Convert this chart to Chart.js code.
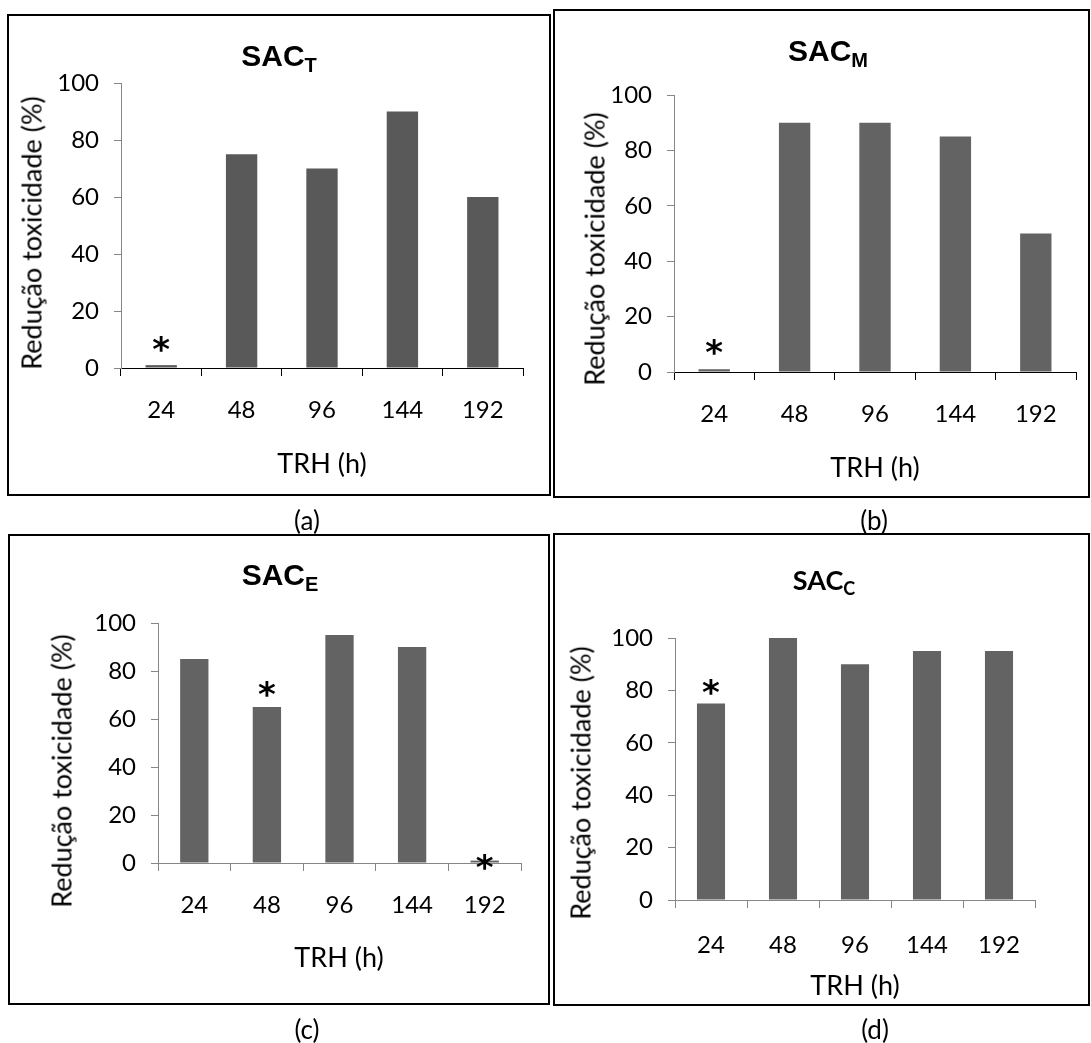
<!DOCTYPE html>
<html><head><meta charset="utf-8">
<script src="https://cdn.jsdelivr.net/npm/chart.js@4.4.0/dist/chart.umd.min.js"></script>
<style>
html,body{margin:0;padding:0;background:#fff;}
body{width:1091px;height:1043px;position:relative;overflow:hidden;font-family:Lato,sans-serif;color:#000;}
canvas.cv{position:absolute;left:0;top:0;}
.box{position:absolute;border:2px solid #000;box-sizing:border-box;}
.t{position:absolute;white-space:nowrap;line-height:1;transform:translate(-50%,-50%);}
.yt{position:absolute;white-space:nowrap;line-height:1;transform:translate(-50%,-50%) rotate(-90deg);font-size:27px;}
.xt{font-size:27px;}
.ttl{font-family:"Liberation Sans",Arial,sans-serif;font-weight:bold;font-size:30px;}
.ttl sub{font-size:20px;vertical-align:baseline;position:relative;top:0.3em;}
.ttlc{font-family:Lato,sans-serif;font-weight:bold;font-size:27px;}
.ttlc sub{font-size:18px;vertical-align:baseline;position:relative;top:0.3em;}
.pl{font-size:26px;}
</style></head><body>
<div class="box" style="left:7px;top:14px;width:544px;height:482px"></div>
<div class="box" style="left:553px;top:9px;width:537px;height:489px"></div>
<div class="box" style="left:8px;top:534px;width:542px;height:471px"></div>
<div class="box" style="left:553px;top:533px;width:537px;height:473px"></div>

<canvas class="cv" id="ca" width="1091" height="1043"></canvas>
<canvas class="cv" id="cb" width="1091" height="1043"></canvas>
<canvas class="cv" id="cc" width="1091" height="1043"></canvas>
<canvas class="cv" id="cd" width="1091" height="1043"></canvas>

<div class="t ttl" style="left:279px;top:56px">SAC<sub>T</sub></div>
<div class="t ttl" style="left:828px;top:51px">SAC<sub>M</sub></div>
<div class="t ttl" style="left:280px;top:575px">SAC<sub>E</sub></div>
<div class="t ttlc" style="left:824px;top:579px">SAC<sub>C</sub></div>

<div class="yt" style="left:31px;top:233px">Redução toxicidade (%)</div>
<div class="yt" style="left:594px;top:249px">Redução toxicidade (%)</div>
<div class="yt" style="left:61px;top:771px">Redução toxicidade (%)</div>
<div class="yt" style="left:580px;top:783px">Redução toxicidade (%)</div>

<div class="t xt" style="left:322px;top:462px">TRH (h)</div>
<div class="t xt" style="left:875px;top:466px">TRH (h)</div>
<div class="t xt" style="left:339px;top:956px">TRH (h)</div>
<div class="t xt" style="left:855px;top:984px">TRH (h)</div>

<div class="t pl" style="left:307px;top:520px">(a)</div>
<div class="t pl" style="left:874px;top:520px">(b)</div>
<div class="t pl" style="left:307px;top:1029px">(c)</div>
<div class="t pl" style="left:875px;top:1029px">(d)</div>

<script>
// ---- data ----
const categories = ['24', '48', '96', '144', '192'];
const yTickValues = [0, 20, 40, 60, 80, 100];
const valuesT = [1, 75, 70, 90, 60];
const valuesM = [1, 90, 90, 85, 50];
const valuesE = [85, 65, 95, 90, 1];
const valuesC = [75, 100, 90, 95, 95];
const starsT = [0];
const starsM = [0];
const starsE = [1, 4];
const starsC = [0];

// ---- layout / style ----
const W = 1091, H = 1043, Y_W = 80, X_H = 70;
const panels = [
  {id:'ca', values:valuesT, stars:starsT, lifts:[21], plot:{l:121,r:523,t:83,b:368}, bar:'#595959', xColor:'#000000', xPad:20},
  {id:'cb', values:valuesM, stars:starsM, lifts:[22], plot:{l:674,r:1076,t:95,b:372}, bar:'#636363', xColor:'#000000', xPad:20},
  {id:'cc', values:valuesE, stars:starsE, lifts:[18,-1], plot:{l:158,r:521,t:623,b:863}, bar:'#636363', xColor:'#868686', xPad:20},
  {id:'cd', values:valuesC, stars:starsC, lifts:[17], plot:{l:675,r:1035,t:638,b:900}, bar:'#636363', xColor:'#868686', xPad:23}
];

const starPlugin = {
  id:'stars',
  afterDatasetsDraw(chart, args, opts){
    const meta = chart.getDatasetMeta(0);
    const ctx = chart.ctx;
    ctx.save();
    ctx.fillStyle = '#000';
    ctx.font = 'bold 34px "DejaVu Sans"';
    ctx.textAlign = 'center';
    ctx.textBaseline = 'alphabetic';
    (opts.indices || []).forEach((idx, k) => {
      const el = meta.data[idx];
      if (!el) return;
      const m = ctx.measureText('*');
      const cy = el.y - (opts.lifts[k] || 0);
      const base = cy + (m.actualBoundingBoxAscent - m.actualBoundingBoxDescent) / 2;
      ctx.fillText('*', el.x, base);
    });
    ctx.restore();
  }
};

function build(p){
  new Chart(document.getElementById(p.id), {
    type:'bar',
    data:{labels:categories, datasets:[{data:p.values, backgroundColor:p.bar, borderWidth:0, barPercentage:0.39, categoryPercentage:1.0}]},
    options:{
      responsive:false, animation:false, devicePixelRatio:1,
      events:[],
      layout:{padding:{left:p.plot.l - Y_W, top:p.plot.t, right:W - p.plot.r, bottom:H - p.plot.b - X_H}},
      plugins:{legend:{display:false}, tooltip:{enabled:false}, title:{display:false},
        stars:{indices:p.stars, lifts:p.lifts}},
      scales:{
        x:{
          offset:true,
          grid:{display:true, drawOnChartArea:false, drawTicks:true, tickLength:8, color:p.xColor, lineWidth:1, offset:true},
          border:{display:true, color:p.xColor, width:1},
          ticks:{color:'#000', font:{family:'Lato', size:24}, padding:p.xPad, maxRotation:0, minRotation:0, autoSkip:false},
          afterFit:s=>{s.height = X_H;}
        },
        y:{
          min:0, max:100,
          grid:{display:true, drawOnChartArea:false, drawTicks:true, tickLength:7, color:'#868686', lineWidth:1},
          border:{display:true, color:'#868686', width:1},
          ticks:{color:'#000', font:{family:'Lato', size:24}, padding:15},
          afterBuildTicks:s=>{s.ticks = yTickValues.map(v=>({value:v}));},
          afterFit:s=>{s.width = Y_W;}
        }
      }
    },
    plugins:[starPlugin]
  });
}

function go(){ panels.forEach(build); }
if (document.fonts && document.fonts.load) {
  Promise.all([document.fonts.load('24px Lato'), document.fonts.load('bold 34px "DejaVu Sans"')]).then(go, go);
} else { go(); }
</script>
</body></html>
